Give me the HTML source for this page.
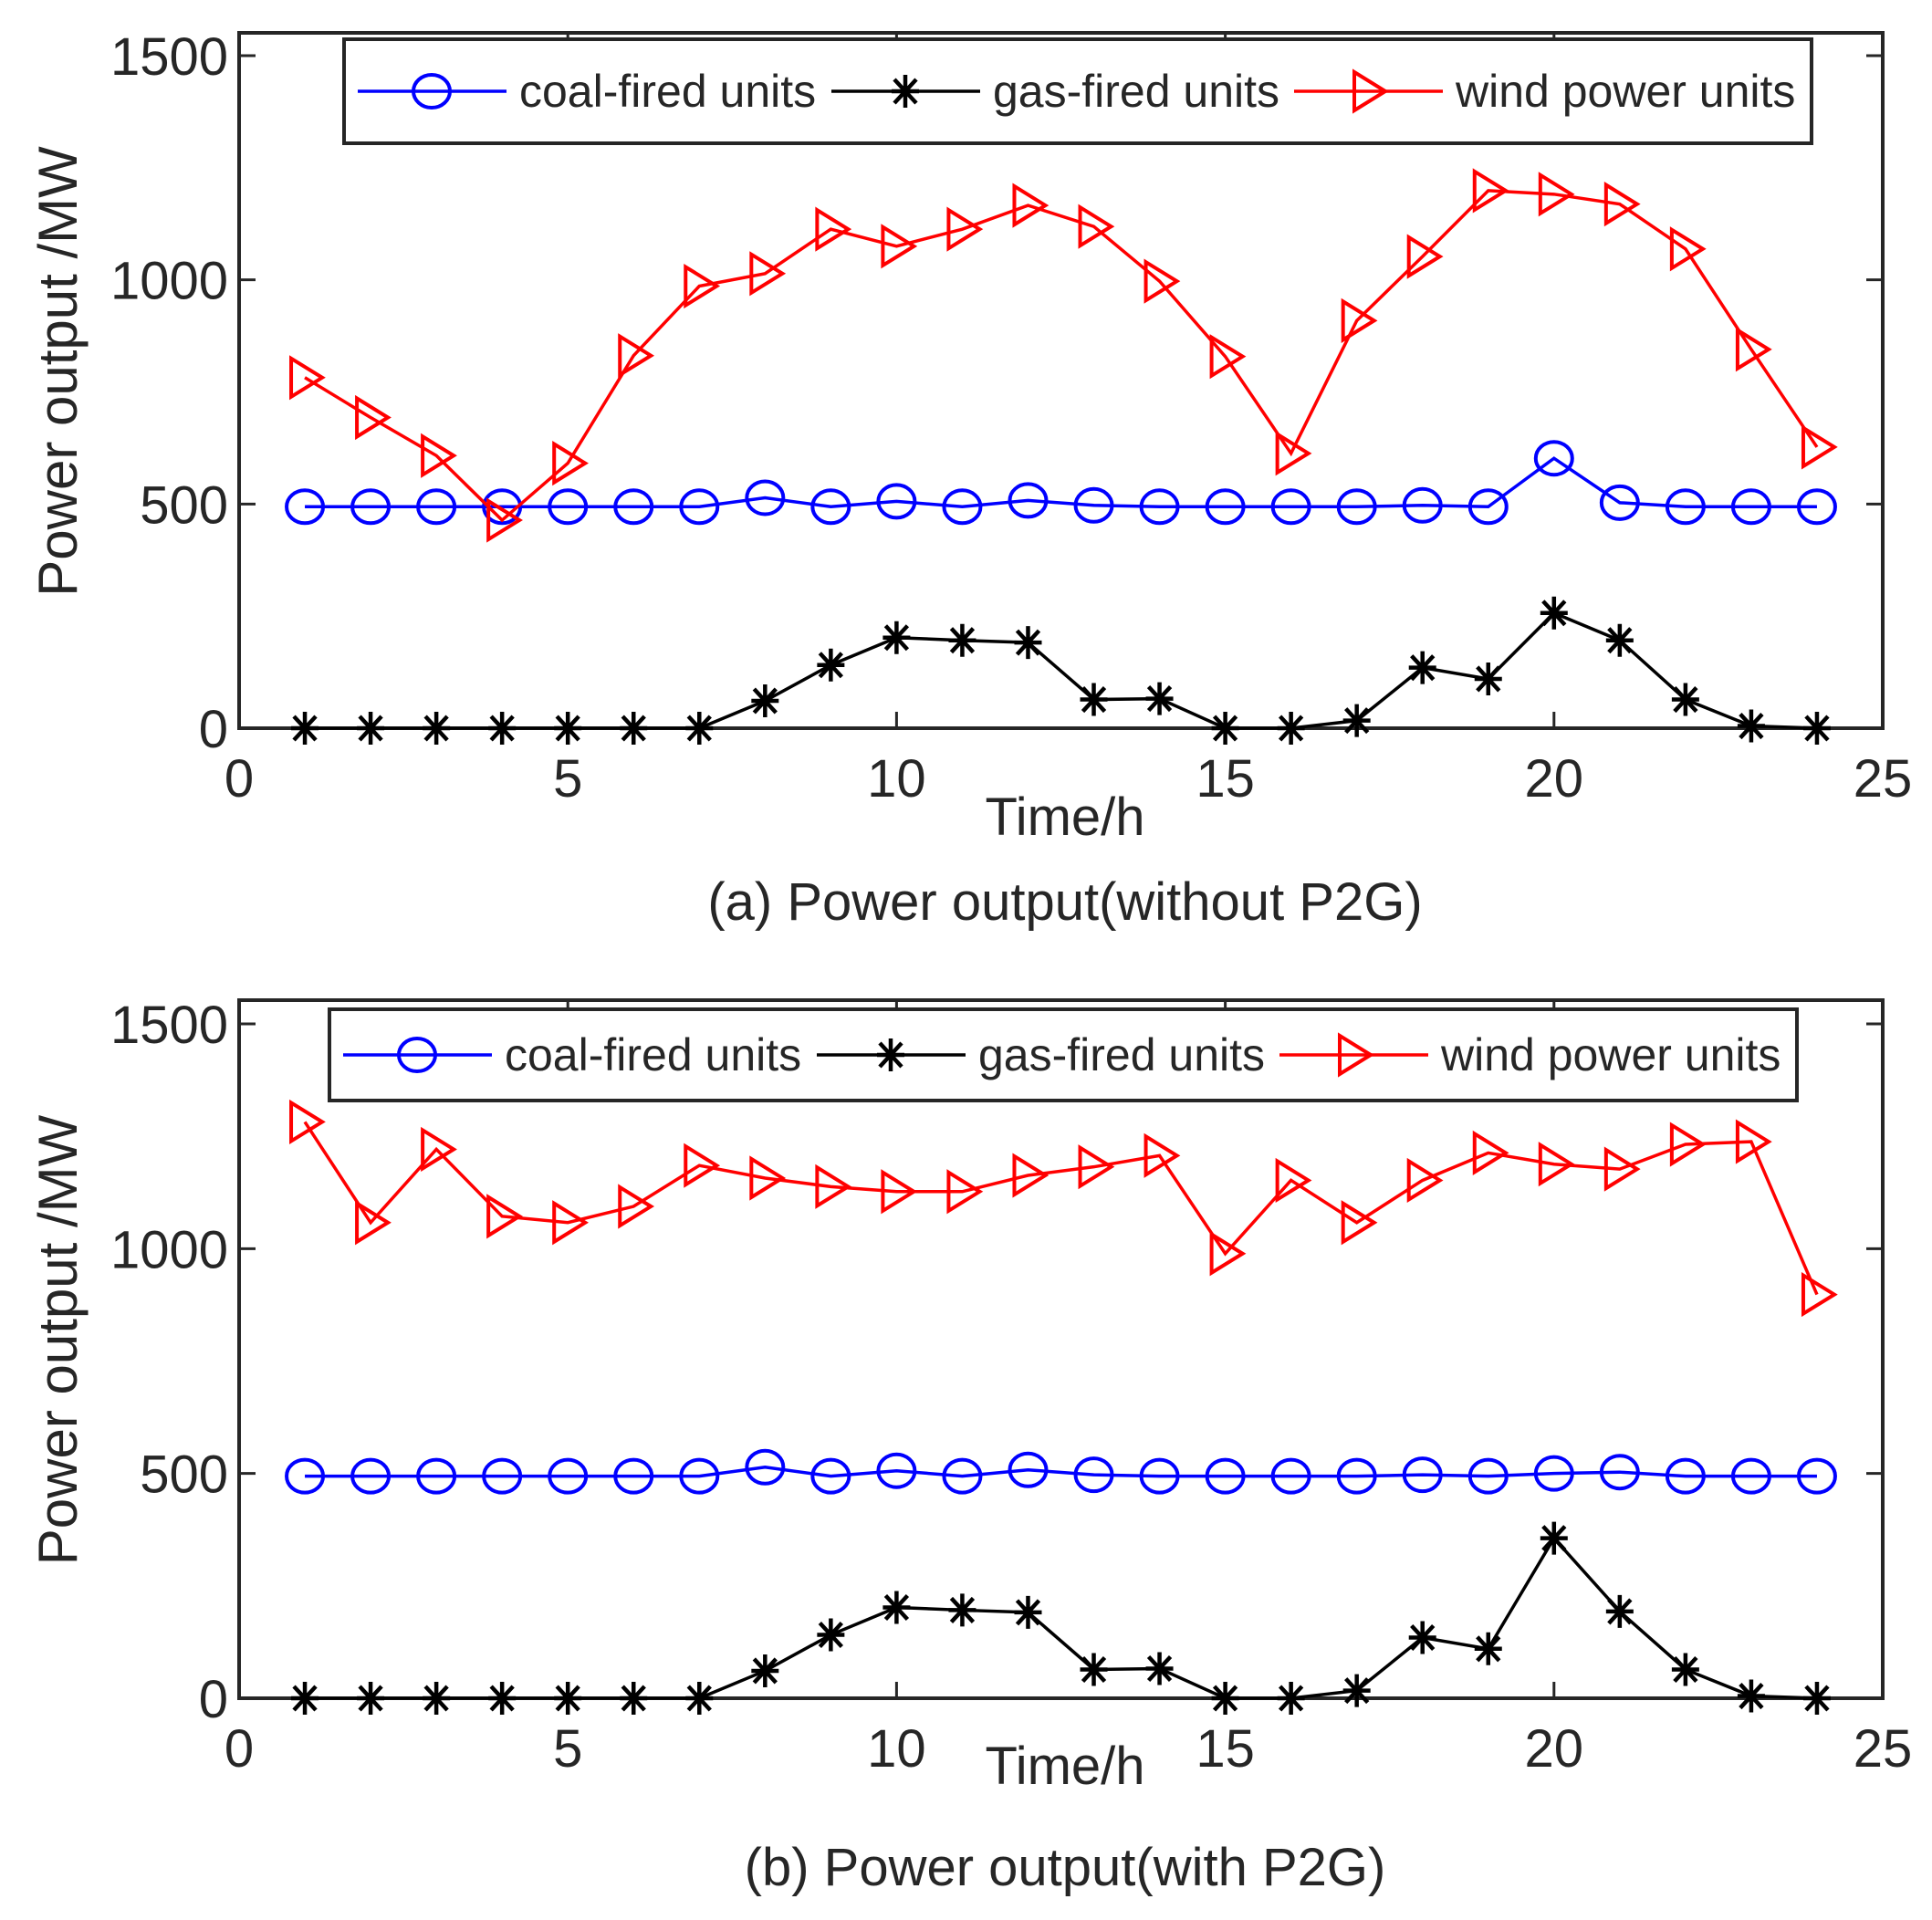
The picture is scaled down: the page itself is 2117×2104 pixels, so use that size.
<!DOCTYPE html>
<html><head><meta charset="utf-8"><style>
html,body{margin:0;padding:0;background:#fff}
svg{display:block}
text{font-family:"Liberation Sans",Arial,sans-serif;fill:#262626}
</style></head><body>
<svg id="chart" width="2117" height="2104" viewBox="0 0 2117 2104" xmlns="http://www.w3.org/2000/svg"></svg>
<script>
const hours = [1,2,3,4,5,6,7,8,9,10,11,12,13,14,15,16,17,18,19,20,21,22,23,24];
const coalA = [494,494,494,494,494,494,494,514,494,506,494,508,497,494,494,494,494,497,494,602,503,494,494,494];
const gasA = [0,0,0,0,0,0,0,61,141,202,196,191,64,66,0,0,17,135,110,257,196,64,5,0];
const windA = [782,693,608,464,591,831,986,1014,1113,1075,1113,1166,1119,997,829,613,909,1052,1199,1191,1169,1069,845,627];
const coalB = [494,494,494,494,494,494,494,514,494,506,494,508,497,494,494,494,494,497,494,500,503,494,494,494];
const gasB = [0,0,0,0,0,0,0,61,141,202,196,191,64,66,0,0,17,135,110,356,193,64,5,0];
const windB = [1282,1058,1221,1072,1058,1094,1185,1157,1138,1127,1127,1163,1182,1207,989,1152,1058,1152,1213,1188,1177,1232,1238,898];
const xTicks = [0,5,10,15,20,25];
const yTicks = [0,500,1000,1500];
const seriesNames = ["coal-fired units","gas-fired units","wind power units"];

const NS = "http://www.w3.org/2000/svg";
const svg = document.getElementById("chart");
function mk(tag, attrs, parent){
  const e = document.createElementNS(NS, tag);
  for (const k in attrs) e.setAttribute(k, attrs[k]);
  (parent||svg).appendChild(e);
  return e;
}
const L = 262, R = 2063;
function xs(v){ return L + (v/25)*(R-L); }

function drawMarker(g, kind, x, y){
  if (kind === "coal"){
    const m = mk("ellipse",{cx:x,cy:y,rx:20,ry:18,fill:"none",stroke:"#0000ff","stroke-width":4},g);
    
    
  } else if (kind === "gas"){
    const d = `M${x-15},${y}H${x+15}M${x},${y-18}V${y+18}M${x-12},${y-13}L${x+12},${y+13}M${x-12},${y+13}L${x+12},${y-13}`;
    const m = mk("path",{d:d,fill:"none",stroke:"#000","stroke-width":4.5},g);
    
    
  } else {
    const m = mk("polygon",{points:`${x-15},${y-21} ${x+19},${y} ${x-15},${y+21}`,fill:"none",stroke:"#ff0000","stroke-width":4},g);
    
    
  }
}

function panel(id, top, y0, y1500, coal, gas, wind, legend, xlabY, capY, caption){
  const bottom = y0;
  const ys = v => y0 - (v/1500)*(y0-y1500);
  const g = mk("g",{});
  
  
  const box = mk("rect",{x:L,y:top,width:R-L,height:bottom-top,fill:"none",stroke:"#262626","stroke-width":4},g);
  
  
  xTicks.forEach(t=>{
    const x = xs(t);
    mk("line",{x1:x,y1:bottom,x2:x,y2:bottom-18,stroke:"#262626","stroke-width":3},g);
    mk("line",{x1:x,y1:top,x2:x,y2:top+18,stroke:"#262626","stroke-width":3},g);
    const tx = mk("text",{x:x,y:bottom+75,"font-size":58,"text-anchor":"middle"},g);
    tx.textContent = t;
    
    
  });
  yTicks.forEach(t=>{
    const y = ys(t);
    mk("line",{x1:L,y1:y,x2:L+18,y2:y,stroke:"#262626","stroke-width":3},g);
    mk("line",{x1:R,y1:y,x2:R-18,y2:y,stroke:"#262626","stroke-width":3},g);
    const tx = mk("text",{x:L-12,y:y+21,"font-size":58,"text-anchor":"end"},g);
    tx.textContent = t;
    
    
  });
  const yl = mk("text",{x:0,y:0,"font-size":60,"text-anchor":"middle",transform:`translate(84,${(top+bottom)/2 - 10}) rotate(-90)`},g);
  yl.textContent = "Power output /MW";
  
  
  const xl = mk("text",{x:1167,y:xlabY,"font-size":58,"text-anchor":"middle"},g);
  xl.textContent = "Time/h";
  
  
  const cp = mk("text",{x:1167,y:capY,"font-size":58,"text-anchor":"middle"},g);
  cp.textContent = caption;
  
  

  const sets = [["coal",coal,"#0000ff"],["gas",gas,"#000"],["wind",wind,"#ff0000"]];
  sets.forEach(([k,arr,col])=>{
    const sg = mk("g",{},g);
    
    
    const pts = arr.map((v,i)=>xs(hours[i])+","+ys(v)).join(" ");
    const pl = mk("polyline",{points:pts,fill:"none",stroke:col,"stroke-width":3.5},sg);
    
    
    arr.forEach((v,i)=>drawMarker(sg,k,xs(hours[i]),ys(v)));
  });

  const lg = mk("g",{},g);
  
  
  const lr = mk("rect",{x:legend.x,y:legend.y,width:1608,height:legend.h,fill:"#fff",stroke:"#262626","stroke-width":4},lg);
  
  
  const cy = legend.y + legend.h/2;
  const offs = [0, 519, 1026];
  const keys = ["coal","gas","wind"];
  const cols = ["#0000ff","#000","#ff0000"];
  keys.forEach((k,i)=>{
    const bx = legend.x + 15 + offs[i];
    const eg = mk("g",{},lg);
    
    
    mk("line",{x1:bx,y1:cy,x2:bx+163,y2:cy,stroke:cols[i],"stroke-width":3.5},eg);
    drawMarker(eg,k,bx+81,cy);
    const t = mk("text",{x:bx+177,y:cy+17,"font-size":50,fill:"#000"},eg);
    t.textContent = seriesNames[i];
    
    
  });
}

panel("panel-a-without-p2g", 36, 798, 61, coalA, gasA, windA, {x:377,y:43,h:114}, 915, 1008, "(a) Power output(without P2G)");
panel("panel-b-with-p2g", 1096, 1861, 1122, coalB, gasB, windB, {x:361,y:1106,h:100}, 1955, 2066, "(b) Power output(with P2G)");
</script>
</body></html>
